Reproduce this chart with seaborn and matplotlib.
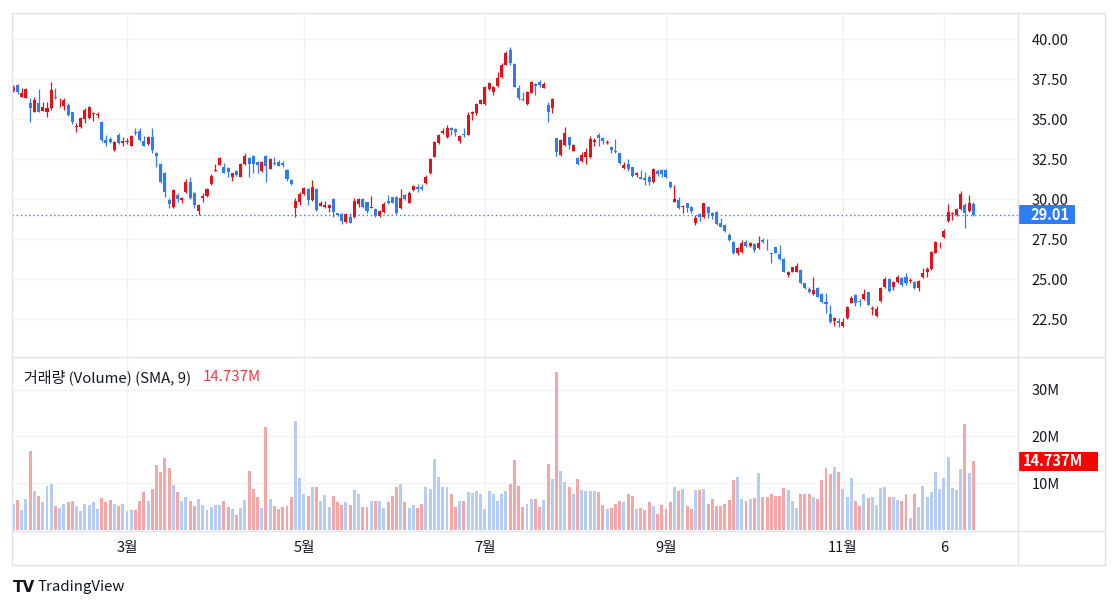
import numpy as np
import pandas as pd
import matplotlib
matplotlib.use("Agg")
import matplotlib.pyplot as plt
import matplotlib.transforms as mtransforms
from matplotlib.lines import Line2D
from matplotlib.patches import Rectangle
import seaborn as sns

# ---------------- data ----------------
opens = [36.75, 37.12, 36.4, 36.33, 35.98, 35.42, 35.98, 35.52, 35.46, 35.67,
         36.4, 35.98, 35.83, 35.88, 35.42, 34.48, 34.48, 35.0, 35.08, 35.29,
         35.25, 34.83, 33.69, 33.73, 33.06, 34.0, 33.52, 33.54, 33.33, 34.2,
         34.25, 33.62, 33.42, 33.9, 32.9, 32.17, 31.6, 29.94, 29.52, 30.25,
         29.94, 30.46, 31.08, 30.35, 29.25, 30.08, 30.19, 30.94, 31.77, 32.125,
         32.02, 31.92, 31.35, 31.77, 31.4, 32.19, 32.54, 32.69, 32.33, 31.75,
         32.69, 31.85, 32.27, 32.33, 32.27, 31.81, 31.19, 29.46, 29.83, 30.31,
         30.6, 29.94, 30.6, 29.58, 29.48, 29.42, 29.98, 29.1, 29.05, 28.58,
         28.9, 28.85, 29.69, 30.0, 29.79, 29.42, 29.35, 28.94, 29.21, 29.85,
         30.1, 30.15, 29.42, 30.25, 29.77, 30.56, 30.77, 30.73, 30.98, 31.6,
         32.65, 33.48, 34.15, 33.85, 34.46, 34.38, 33.6, 34.04, 34.0, 35.31,
         35.4, 35.94, 35.94, 36.85, 36.71, 37.06, 37.6, 38.375, 39.31, 38.45,
         36.92, 36.25, 35.94, 36.65, 37.17, 37.33, 36.92, 35.875, 35.67, 33.79,
         32.75, 33.375, 33.85, 33.02, 32.54, 32.4, 32.65, 32.6, 33.58, 34.0,
         33.79, 33.5, 33.27, 33.02, 32.85, 31.96, 32.19, 31.98, 31.52, 31.35,
         31.29, 31.4, 31.08, 31.77, 31.81, 31.81, 31.08, 29.83, 29.94, 29.48,
         29.73, 29.52, 28.48, 29.06, 28.85, 29.52, 29.15, 29.21, 28.48, 28.375,
         27.75, 27.33, 26.6, 26.71, 27.33, 27.06, 27.19, 26.92, 27.44, 27.12,
         26.6, 26.98, 26.56, 26.27, 25.25, 25.46, 25.46, 25.56, 24.73, 24.35,
         24.04, 24.46, 24.04, 23.58, 22.81, 22.4, 22.4, 22.06, 22.54, 23.52,
         24.0, 23.65, 23.73, 24.17, 23.125, 22.69, 23.65, 24.48, 24.98, 24.52,
         24.83, 25.04, 25.1, 24.85, 24.83, 24.42, 25.1, 25.46, 25.6, 26.65,
         27.23, 27.65, 28.65, 29.06, 29.0, 29.35, 29.625, 29.27, 29.69]
highs = [37.1, 37.19, 36.92, 36.92, 36.33, 36.4, 36.87, 36.08, 36.08, 37.29,
         36.92, 36.29, 36.33, 35.98, 35.46, 34.73, 35.15, 35.71, 35.83, 35.46,
         35.46, 34.88, 34.0, 33.9, 33.62, 34.1, 33.9, 33.8, 34.0, 34.42,
         34.46, 33.94, 33.94, 34.42, 32.96, 32.23, 31.71, 30.04, 30.62, 30.35,
         30.1, 31.23, 31.35, 30.46, 29.69, 30.35, 30.67, 31.54, 32.19, 32.6,
         32.27, 31.98, 31.65, 31.81, 32.23, 32.9, 32.6, 32.75, 32.4, 32.4,
         32.75, 32.54, 32.65, 32.44, 32.4, 31.85, 31.23, 30.04, 30.46, 30.77,
         30.67, 31.19, 30.67, 29.88, 29.88, 29.69, 30.04, 29.15, 29.1, 29.15,
         29.15, 30.04, 30.04, 30.04, 29.83, 30.19, 29.42, 29.31, 29.83, 30.25,
         30.15, 30.19, 30.625, 30.31, 30.52, 30.85, 30.94, 30.94, 31.5, 32.54,
         33.62, 34.06, 34.42, 34.625, 34.52, 34.42, 34.0, 34.42, 35.46, 35.52,
         35.98, 36.23, 37.06, 37.33, 37.06, 37.92, 38.48, 39.27, 39.48, 38.5,
         37.12, 36.71, 36.77, 37.4, 37.27, 37.44, 37.33, 36.08, 36.29, 33.83,
         33.73, 34.52, 33.9, 33.44, 32.6, 32.96, 33.17, 33.94, 33.79, 34.15,
         33.9, 33.69, 33.31, 33.73, 32.9, 32.33, 32.48, 32.02, 31.71, 31.81,
         31.71, 31.5, 31.92, 31.85, 31.85, 31.85, 31.15, 30.875, 30.15, 29.625,
         29.77, 29.56, 29.0, 29.15, 29.77, 29.56, 29.21, 29.27, 28.79, 28.42,
         27.85, 27.375, 26.98, 27.44, 27.44, 27.33, 27.23, 27.69, 27.54, 27.52,
         26.6, 27.02, 27.1, 26.33, 25.5, 25.77, 25.98, 25.6, 24.77, 24.52,
         25.1, 24.52, 24.1, 24.15, 23.375, 22.6, 22.54, 22.54, 23.31, 23.94,
         24.06, 23.73, 24.35, 24.21, 23.31, 23.31, 24.48, 25.1, 25.04, 24.9,
         25.25, 25.15, 25.4, 25.04, 24.9, 24.94, 25.67, 25.73, 26.77, 27.4,
         27.33, 28.1, 29.69, 29.21, 29.42, 30.52, 29.73, 30.25, 29.83]
lows = [36.7, 36.54, 36.35, 36.29, 34.83, 35.42, 35.42, 35.5, 35.15, 35.56,
        36.25, 35.77, 35.56, 35.21, 34.67, 34.17, 34.42, 34.77, 35.0, 34.9,
        35.04, 33.58, 33.31, 33.48, 33.0, 33.44, 33.31, 33.44, 33.31, 34.0,
        33.62, 33.33, 33.38, 32.85, 32.02, 30.98, 30.15, 29.46, 29.46, 29.83,
        29.75, 30.4, 29.98, 29.42, 29.0, 29.83, 30.1, 30.88, 31.77, 32.125,
        31.6, 31.35, 31.15, 31.44, 31.4, 32.125, 31.35, 31.65, 31.6, 31.71,
        31.08, 31.85, 32.125, 32.06, 31.98, 31.15, 30.875, 28.85, 29.63, 30.25,
        29.63, 29.9, 29.27, 29.58, 29.42, 29.21, 28.85, 28.94, 28.44, 28.52,
        28.48, 28.79, 29.48, 29.42, 29.15, 29.42, 28.85, 28.9, 29.15, 29.69,
        29.73, 29.06, 29.38, 29.94, 29.73, 30.52, 30.46, 30.56, 30.94, 31.56,
        32.6, 33.44, 34.06, 33.79, 34.0, 33.94, 33.52, 33.9, 34.0, 34.94,
        35.25, 35.94, 35.88, 36.81, 36.5, 37.02, 37.54, 38.375, 38.4, 36.98,
        36.19, 36.15, 35.875, 36.6, 36.5, 36.98, 36.92, 34.83, 35.4, 32.69,
        32.69, 33.31, 33.1, 33.0, 32.125, 32.33, 32.19, 32.54, 33.31, 33.31,
        33.44, 33.44, 32.9, 32.9, 32.19, 31.85, 31.77, 31.4, 31.4, 31.23,
        30.875, 30.875, 31.02, 31.44, 31.4, 31.29, 30.67, 29.83, 29.35, 29.1,
        29.21, 29.15, 28.375, 28.65, 28.79, 28.79, 28.73, 28.375, 28.23, 27.96,
        27.4, 26.56, 26.5, 26.65, 26.98, 27.02, 26.71, 26.85, 27.23, 26.81,
        26.02, 26.6, 26.19, 25.42, 25.15, 25.42, 25.42, 24.69, 24.35, 24.15,
        24.0, 23.85, 23.52, 22.85, 22.27, 22.08, 22.02, 21.98, 22.5, 23.48,
        23.31, 23.31, 23.69, 23.375, 22.75, 22.65, 23.58, 24.42, 24.21, 24.31,
        24.73, 24.56, 24.625, 24.77, 24.35, 24.27, 25.04, 25.15, 25.56, 26.6,
        26.92, 27.54, 28.58, 28.69, 28.94, 29.31, 28.17, 29.21, 28.94]
closes = [37.02, 36.71, 36.6, 36.85, 35.67, 36.19, 35.45, 35.73, 35.67, 36.81,
          36.29, 36.02, 36.19, 35.25, 34.79, 34.58, 35.08, 35.56, 35.73, 35.35,
          35.3, 33.69, 33.52, 33.58, 33.58, 33.48, 33.62, 33.64, 33.94, 34.15,
          33.69, 33.33, 33.9, 33.06, 32.71, 31.04, 30.46, 29.67, 30.56, 30.0,
          30.08, 31.08, 30.04, 29.63, 29.63, 30.19, 30.6, 31.44, 31.81, 32.54,
          31.65, 31.71, 31.6, 31.5, 32.19, 32.69, 32.19, 32.19, 32.125, 32.33,
          32.06, 32.48, 32.17, 32.06, 32.125, 31.23, 30.92, 29.9, 30.31, 30.67,
          29.94, 30.77, 29.31, 29.73, 29.63, 29.63, 29.21, 29.0, 28.6, 29.06,
          28.52, 29.88, 29.98, 29.48, 29.27, 29.52, 28.94, 29.25, 29.69, 29.73,
          29.77, 29.1, 30.04, 29.98, 30.4, 30.81, 30.6, 30.6, 31.4, 32.48,
          33.58, 34.0, 34.27, 34.42, 34.31, 34.21, 33.94, 34.0, 35.25, 35.46,
          35.92, 36.19, 37.02, 37.23, 37.02, 37.54, 38.375, 39.1, 38.5, 37.0,
          36.29, 36.19, 36.71, 37.33, 37.06, 37.125, 37.19, 35.46, 36.23, 32.96,
          33.69, 34.15, 33.375, 33.375, 32.19, 32.75, 32.96, 33.73, 33.69, 33.79,
          33.625, 33.54, 33.06, 32.92, 32.23, 32.125, 31.85, 31.44, 31.6, 31.25,
          31.19, 31.08, 31.85, 31.56, 31.56, 31.4, 30.73, 29.98, 29.42, 29.56,
          29.42, 29.27, 28.79, 28.9, 29.73, 29.1, 28.94, 28.44, 28.27, 28.02,
          27.44, 26.6, 26.92, 27.23, 27.06, 27.27, 26.81, 27.27, 27.33, 27.1,
          26.54, 26.65, 26.23, 25.46, 25.46, 25.73, 25.81, 24.73, 24.42, 24.21,
          24.31, 23.9, 23.58, 23.42, 22.33, 22.58, 22.27, 22.33, 23.23, 23.79,
          23.52, 23.58, 24.06, 23.375, 23.21, 23.1, 24.42, 25.0, 24.27, 24.83,
          25.15, 24.625, 24.73, 24.94, 24.42, 24.9, 25.35, 25.6, 26.71, 27.33,
          27.27, 28.02, 29.17, 29.1, 29.35, 30.31, 29.15, 29.73, 29.01]
volumes_m = [5.5, 6.5, 4.2, 6.7, 17.0, 8.4, 7.3, 5.9, 9.5, 9.9,
             5.2, 4.7, 5.6, 5.9, 6.3, 5.2, 4.0, 5.6, 5.4, 5.9,
             4.5, 6.8, 5.9, 6.5, 5.6, 5.2, 5.6, 4.0, 4.3, 4.2,
             6.1, 8.1, 6.1, 8.8, 13.9, 12.4, 15.3, 13.2, 9.7, 8.1,
             6.1, 7.0, 6.1, 5.2, 6.7, 5.4, 4.3, 4.9, 5.4, 5.4,
             6.3, 4.9, 4.5, 3.2, 4.7, 6.5, 12.7, 8.8, 7.0, 4.7,
             22.1, 6.7, 5.2, 4.5, 4.9, 5.2, 7.0, 23.4, 11.2, 7.6,
             7.2, 9.1, 9.1, 6.1, 7.4, 4.9, 7.3, 5.9,
             5.4, 5.9, 5.4, 8.6, 7.6, 4.9, 4.9, 6.1, 6.3, 6.1,
             4.7, 5.9, 7.3, 9.1, 9.9, 5.9, 4.7, 5.4, 4.7, 5.6,
             9.1, 8.8, 15.1, 11.4, 9.1, 9.2, 7.6, 5.0, 6.3, 6.1,
             8.1, 7.9, 8.4, 7.6, 4.5, 8.4, 7.6, 6.1, 7.8, 8.4,
             9.9, 14.9, 9.5, 4.9, 5.6, 6.7, 6.7, 4.9, 6.5, 14.2,
             11.0, 33.7, 12.7, 10.3, 9.2, 7.6, 11.0, 8.6, 8.4, 8.4,
             8.4, 8.1, 5.4, 4.5, 4.7, 5.6, 6.3, 5.9, 7.6, 7.3,
             4.5, 4.7, 4.3, 5.9, 5.2, 3.5, 5.4, 4.5, 5.9,
             9.1, 8.3, 8.8, 5.2, 4.5, 8.6, 8.6, 8.8, 5.6, 6.7,
             5.2, 5.2, 5.6, 6.5, 10.6, 11.4, 6.7, 6.3, 6.7, 6.8,
             12.1, 7.1, 7.1, 7.8, 7.3, 7.3, 9.0, 8.6, 6.3, 4.7,
             7.8, 7.6, 7.8, 7.1, 6.7, 10.8, 13.2, 11.9, 13.5, 12.4,
             8.8, 7.1, 11.2, 6.3, 5.2, 7.6, 6.8, 7.1, 5.4, 9.0,
             9.2, 7.1, 7.1, 6.5, 6.3, 7.8, 2.5, 7.6, 4.9, 9.5,
             7.1, 8.1, 12.4, 8.8, 11.2, 15.7, 9.0, 8.6, 13.1, 22.7,
             12.1, 14.737]
month_labels = ["3월", "5월", "7월", "9월", "11월", "6"]
month_candle = [27, 69, 112, 155, 197, 221]
price_ticks = [22.5, 25.0, 27.5, 30.0, 32.5, 35.0, 37.5, 40.0]
volume_ticks = [10, 20, 30]
last_price = 29.01
last_volume = 14.737

# ---------------- styling ----------------
sns.set_theme(style="white")
plt.rcParams["font.family"] = ["Noto Sans CJK KR", "DejaVu Sans"]

UP = "#e0131b"
DOWN = "#2f7cf0"
VOL_UP = "#b5cdf4"     # volume bar colour for rising candles
VOL_DOWN = "#f5a7a8"   # volume bar colour for falling candles
GRID = "#f0f2f7"
SEP = "#e0e3eb"
TXT = "#131722"
FS = 10.5

W, H = 1118, 609
fig = plt.figure(figsize=(W / 100, H / 100), dpi=100)
fig.patch.set_facecolor("white")


def fx(px):
    return px / W


def fy(py):
    return 1 - py / H


LEFT, RIGHT = 12, 1018
axp = fig.add_axes([fx(LEFT), fy(356), fx(RIGHT) - fx(LEFT), fy(13) - fy(356)])
axv = fig.add_axes([fx(LEFT), fy(530), fx(RIGHT) - fx(LEFT), fy(357) - fy(530)], sharex=axp)

o = np.array(opens)
h = np.array(highs)
l = np.array(lows)
c = np.array(closes)
idx = np.arange(len(c))
rising = c >= o
cols = np.where(rising, UP, DOWN)

# grids
for ax in (axp, axv):
    for t in month_candle:
        ax.axvline(t, color=GRID, lw=1, zorder=0)
    for s in ax.spines.values():
        s.set_visible(False)
    ax.set_facecolor("white")
for t in price_ticks:
    axp.axhline(t, color=GRID, lw=1, zorder=0)
for t in volume_ticks:
    axv.axhline(t, color=GRID, lw=1, zorder=0)

# candles
axp.vlines(idx, l, h, colors=cols, linewidth=0.9, zorder=2)
body_bottom = np.minimum(o, c)
body_h = np.maximum(np.abs(c - o), 0.05)
axp.bar(idx, body_h, bottom=body_bottom, width=0.72, color=cols, linewidth=0, zorder=3)

# last price dotted line
axp.axhline(last_price, color=DOWN, lw=1.0, ls=(0, (1, 2)), zorder=1)

axp.set_xlim(-0.31, 238.6)
axp.set_ylim(20.19, 41.625)

# volume via seaborn
vdf = pd.DataFrame({"i": idx, "vol": volumes_m,
                    "dir": np.where(rising, "up", "down")})
sns.barplot(data=vdf, x="i", y="vol", hue="dir", palette={"up": VOL_UP, "down": VOL_DOWN},
            native_scale=True, dodge=False, width=0.7, errorbar=None, saturation=1,
            linewidth=0, legend=False, ax=axv, zorder=2)
axv.set_xlim(-0.31, 238.6)
axv.set_ylim(0, 37.0)
axv.set_xlabel("")
axv.set_ylabel("")

# ticks
axp.yaxis.tick_right()
axp.set_yticks(price_ticks)
axp.set_yticklabels([f"{t:.2f}" for t in price_ticks])
axp.tick_params(axis="y", length=0, pad=10, labelsize=FS, labelcolor=TXT)
axp.tick_params(axis="x", length=0, labelbottom=False)

axv.yaxis.tick_right()
axv.set_yticks(volume_ticks)
axv.set_yticklabels([f"{t}M" for t in volume_ticks])
axv.tick_params(axis="y", length=0, pad=10, labelsize=FS, labelcolor=TXT)
axv.set_xticks(month_candle)
axv.set_xticklabels(month_labels)
axv.tick_params(axis="x", length=0, pad=8, labelsize=FS, labelcolor=TXT)

# price / volume value boxes on the right scale
tp = mtransforms.blended_transform_factory(axp.transAxes, axp.transData)
bw = 57 / (RIGHT - LEFT)
bh = 9.5 / 16.0
axp.add_patch(Rectangle((1.0, last_price - bh), bw, 2 * bh, transform=tp, clip_on=False,
                        facecolor="#2e7cf6", edgecolor="none", zorder=5))
axp.text(1.0 + 12 / (RIGHT - LEFT), last_price, f"{last_price:.2f}", transform=tp, color="white",
         fontsize=FS, fontweight="bold", va="center", ha="left", zorder=6, clip_on=False)

tv = mtransforms.blended_transform_factory(axv.transAxes, axv.transData)
vbw = 80 / (RIGHT - LEFT)
vbh = 9.5 / 4.67
axv.add_patch(Rectangle((1.0, last_volume - vbh), vbw, 2 * vbh, transform=tv, clip_on=False,
                        facecolor="#ff0000", edgecolor="none", zorder=5))
axv.text(1.0 + 5 / (RIGHT - LEFT), last_volume, f"{last_volume:.3f}M", transform=tv, color="white",
         fontsize=FS, fontweight="bold", va="center", ha="left", zorder=6, clip_on=False)

# legend text of volume pane
fig.text(fx(24), fy(377), "거래량 (Volume) (SMA, 9)", color=TXT, fontsize=10.8,
         va="center", ha="left")
fig.text(fx(203), fy(377), f"{last_volume:.3f}M", color="#f23645", fontsize=10.8,
         va="center", ha="left")

# frame / separators
def fline(x0, y0, x1, y1, color=SEP, lw=1):
    fig.add_artist(Line2D([fx(x0), fx(x1)], [fy(y0), fy(y1)], color=color, lw=lw))

fline(12, 13, 1105, 13)
fline(12, 565, 1105, 565)
fline(12, 13, 12, 565)
fline(1105, 13, 1105, 565)
fline(RIGHT, 13, RIGHT, 565)
fline(12, 356.5, 1105, 356.5)
fline(12, 530.5, 1105, 530.5)

# TradingView branding
fig.text(fx(13), fy(587), "TV", color="#131722", fontsize=11, fontweight="heavy",
         va="center", ha="left", family="DejaVu Sans")
fig.text(fx(38), fy(587), "TradingView", color="#131722", fontsize=10.8,
         va="center", ha="left")

fig.savefig("out.png", dpi=100, facecolor="white")
